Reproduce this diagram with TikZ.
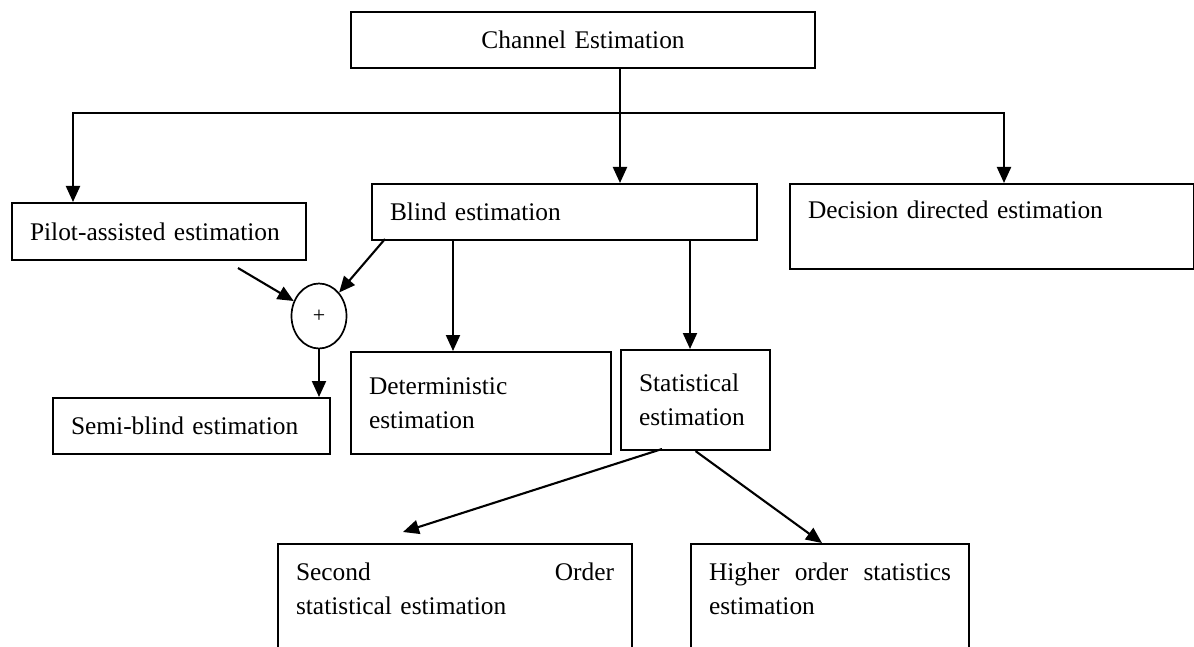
\documentclass[tikz,border=0pt]{standalone}
\usepackage{fontspec}
\setmainfont{Liberation Serif}
\usetikzlibrary{positioning, shapes.geometric, arrows.meta}

\begin{document}
\begin{tikzpicture}[x=1pt, y=-1pt]

% \draw[help lines] (0,0) grid (1194,647);
\useasboundingbox (0,0) rectangle (1194,647);
\clip (0,0) rectangle (1194,647);

\tikzstyle{ebox}=[draw=black, line width=2.1pt, shape=rectangle, anchor=north west,
inner xsep=18pt, inner ysep=4pt, align=left, font=\fontsize{25.4}{34}\selectfont]
\tikzstyle{sumnode}=[draw=black, line width=1.7pt, shape=ellipse, minimum width=55pt,
minimum height=65pt, inner sep=0pt, font=\fontsize{22}{24}\selectfont]
\tikzstyle{arr}=[-{Triangle[length=16pt, width=14pt]}, line width=2.1pt]
\tikzstyle{arr2}=[{Triangle[length=16pt, width=14pt]}-{Triangle[length=16pt, width=14pt]}, line width=2.1pt]

\node[ebox, align=center, text width=428pt, minimum height=56pt] (a1) at (350,11) {Channel Estimation};
\node[ebox, text width=258pt, minimum height=57pt] (a2) at (11,202) {Pilot-assisted estimation};
\node[ebox, text width=349pt, minimum height=56pt] (a3) at (371,183) {Blind estimation};
\node[ebox, text width=368pt, minimum height=85pt] (a4) at (789,183) {Decision directed estimation\\~};
\node[sumnode] (a5) at (319,316) {+};
\node[ebox, text width=241pt, minimum height=56pt] (a6) at (52,397) {Semi-blind estimation};
\node[ebox, text width=224pt, minimum height=102pt] (a7) at (350,351) {Deterministic\\estimation};
\node[ebox, text width=113pt, minimum height=100pt] (a8) at (620,349) {Statistical\\estimation};
\node[ebox, text width=318pt, minimum height=124pt] (a9) at (277,543) {Second\hfill Order\\statistical estimation\\~};
\node[ebox, text width=242pt, minimum height=124pt] (a10) at (690,543) {Higher\hfill order\hfill statistics\\estimation\\~};

\coordinate (c1) at (73,113);
\coordinate (c2) at (1004,113);
\coordinate (c3) at (620,0);
\coordinate (c4) at (238,268);
\coordinate (c5) at (385,239);
\coordinate (c6) at (453,0);
\coordinate (c7) at (690,0);
\coordinate (c8) at (662,449);
\coordinate (c9) at (403,532);
\coordinate (c10) at (822,543);

% lines
\draw[arr2] (c1 |- a2.north) -- (c1) -- (c2) -- (c2 |- a4.north);
\draw[arr] (a1.south -| c3) -- (a3.north -| c3);
\draw[arr] (c4) -- (a5);
\draw[arr] (c5) -- (a5);
\draw[arr] (a5.south) -- (a5.south |- a6.north);
\draw[arr] (a3.south -| c6) -- (a7.north -| c6);
\draw[arr] (a3.south -| c7) -- (a8.north -| c7);
\draw[arr] (c8) -- (c9);
\draw[arr] (a8.south) -- (c10);

\end{tikzpicture}
\end{document}
